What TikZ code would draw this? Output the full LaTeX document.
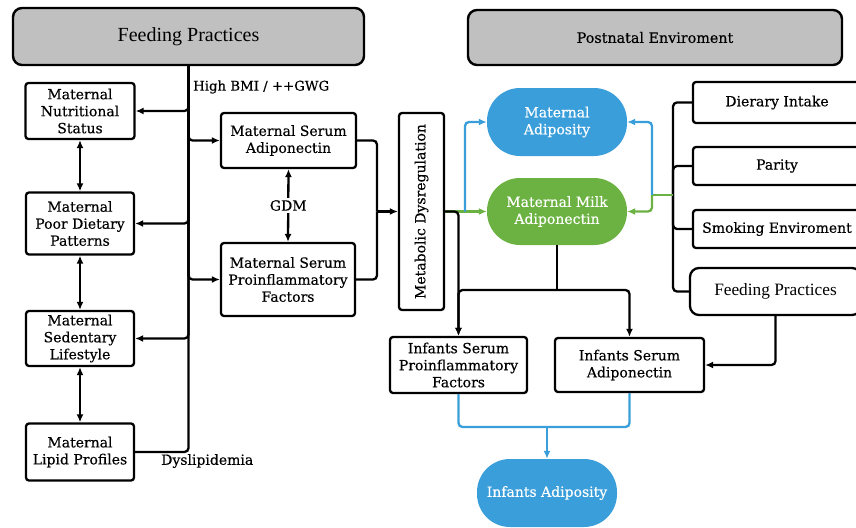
\documentclass[tikz,border=0pt]{standalone}
\usepackage{fontspec}
\setmainfont{DejaVu Serif}[FakeBold=0.4]
\newfontfamily\timesf{Liberation Serif}
\usetikzlibrary{arrows.meta}
\definecolor{cblue}{RGB}{58,158,218}
\definecolor{cgreen}{RGB}{108,178,66}
\definecolor{cgray}{RGB}{192,192,192}
\begin{document}
\begin{tikzpicture}[x=1pt,y=-1pt,
  box/.style={draw=black,line width=2.3pt,rounded corners=3pt,align=center,inner sep=0pt,
    font=\fontsize{14}{17}\selectfont},
  title/.style={draw=black,line width=2.4pt,rounded corners=9pt,fill=cgray,inner sep=0pt},
  blob/.style={rounded corners=33pt,inner sep=0pt,align=center,text=white,
    font=\fontsize{14}{17}\selectfont},
  line/.style={line width=2.3pt,rounded corners=4pt},
  arr/.style={line width=2.3pt,rounded corners=4pt,-{Latex[length=8pt,width=7pt]}},
  darr/.style={line width=2.3pt,{Latex[length=8pt,width=7pt]}-{Latex[length=8pt,width=7pt]}},
  bline/.style={line width=2.3pt,rounded corners=4pt,draw=cblue},
  barr/.style={bline,-{Latex[length=8pt,width=7pt]}},
  gline/.style={line width=2.3pt,rounded corners=4pt,draw=cgreen},
  garr/.style={gline,-{Latex[length=8pt,width=7pt]}},
  lbl/.style={font=\fontsize{14}{17}\selectfont,inner sep=1pt}
]
\useasboundingbox (0,0) rectangle (856,527);

% titles
\node[title,minimum width=351pt,minimum height=57pt,font=\timesf\fontsize{20}{23}\selectfont] (t1) at (188.5,36.5) {Feeding Practices};
\node[title,minimum width=374pt,minimum height=55pt,font=\fontsize{14.3}{17}\selectfont] (t2) at (655,37.5) {Postnatal Enviroment};

% left column
\node[box,minimum width=109pt,minimum height=56pt] (nut) at (80,111) {Maternal\\Nutritional\\Status};
\node[box,minimum width=108pt,minimum height=62pt] (diet) at (80,223.5) {Maternal\\Poor Dietary\\Patterns};
\node[box,minimum width=108pt,minimum height=55pt] (sed) at (80,338.5) {Maternal\\Sedentary\\Lifestyle};
\node[box,minimum width=108pt,minimum height=57pt] (lip) at (80,452) {Maternal\\Lipid Profiles};

% middle
\node[box,minimum width=135pt,minimum height=55pt] (sadipo) at (288.5,140.5) {Maternal Serum\\Adiponectin};
\node[box,minimum width=134pt,minimum height=73pt] (sproinf) at (288,279.5) {Maternal Serum\\Proinflammatory\\Factors};
\node[box,minimum width=45pt,minimum height=197pt] (meta) at (421.5,211.5) {};
\node[rotate=90,font=\fontsize{14}{17}\selectfont] (metat) at (meta.center) {Metabolic Dysregulation};

% colored blobs
\node[blob,fill=cblue,minimum width=140pt,minimum height=68pt] (madip) at (557,122) {Maternal\\Adiposity};
\node[blob,fill=cgreen,minimum width=140pt,minimum height=67pt] (milk) at (557,211.5) {Maternal Milk\\Adiponectin};
\node[blob,fill=cblue,minimum width=140pt,minimum height=68pt] (iadip) at (547,493) {Infants Adiposity};

% right column
\node[box,minimum width=168pt,minimum height=41pt] (diet2) at (777,102.5) {Dierary Intake};
\node[box,minimum width=168pt,minimum height=38pt] (parity) at (777,166) {Parity};
\node[box,minimum width=168pt,minimum height=38pt] (smoke) at (777,229) {Smoking Enviroment};
\node[box,rounded corners=9pt,minimum width=171pt,minimum height=47pt,font=\timesf\fontsize{17.3}{20}\selectfont] (feed2) at (775.5,291.5) {Feeding Practices};

% infants
\node[box,minimum width=137pt,minimum height=56pt] (iproinf) at (458.5,365) {Infants Serum\\Proinflammatory\\Factors};
\node[box,minimum width=149pt,minimum height=54pt] (iadipo) at (629.5,365) {Infants Serum\\Adiponectin};

% labels
\node[lbl,anchor=west,font=\fontsize{13.3}{16}\selectfont] (hbmi) at (192,87) {High BMI / ++GWG};
\node[lbl,anchor=west] (dysl) at (160,461) {Dyslipidemia};

% trunk and branches
\draw[line] (t1.south) |- (lip.east);
\draw[arr] (t1.south) |- (nut.east);
\draw[arr] (t1.south) |- (diet.east);
\draw[arr] (t1.south) |- (sed.east);
\draw[arr] (t1.south) |- (sadipo.west);
\draw[arr] (t1.south) |- (sproinf.west);

% double arrows
\draw[darr] (nut.south) -- (diet.north);
\draw[darr] (diet.south) -- (sed.north);
\draw[darr] (sed.south) -- (lip.north);
\draw[darr] (sadipo.south) -- (sproinf.north) node[midway,fill=white,lbl,inner sep=2pt] (gdm) {GDM};

% serum to metabolic
\coordinate (mj) at (377,211.5);
\draw[line] (sadipo.east) -| (mj);
\draw[line] (sproinf.east) -| (mj);
\draw[arr] (mj) -- (meta.west);

% metabolic outputs
\coordinate (bj) at (465,211.5);
\draw[garr] (meta.east) -- (milk.west);
\draw[barr] (bj) |- (madip.west);
\draw[arr] (meta.east) -| (iproinf.north);

% milk to infants
\coordinate (mk) at (557,290);
\draw[line] (milk.south) -- (mk);
\draw[arr] (mk) -| (iproinf.north);
\draw[arr] (mk) -| (iadipo.north);

% right bracket
\coordinate (br) at (673,195);
\draw[line] (diet2.west) -| (br);
\draw[line] (parity.west) -| (br);
\draw[line] (smoke.west) -| (br);
\draw[line] (feed2.west) -| (br);
\coordinate (gj) at (652,195);
\draw[gline] (br) -- (gj);
\draw[barr] (gj) |- (madip.east);
\draw[garr] (gj) |- (milk.east);

% feeding to infants serum adiponectin
\draw[arr] (feed2.south) |- (iadipo.east);

% infants to adiposity
\coordinate (ij) at (547,427);
\draw[bline] (iproinf.south) |- (ij);
\draw[bline] (iadipo.south) |- (ij);
\draw[barr] (ij) -- (iadip.north);
\end{tikzpicture}
\end{document}
